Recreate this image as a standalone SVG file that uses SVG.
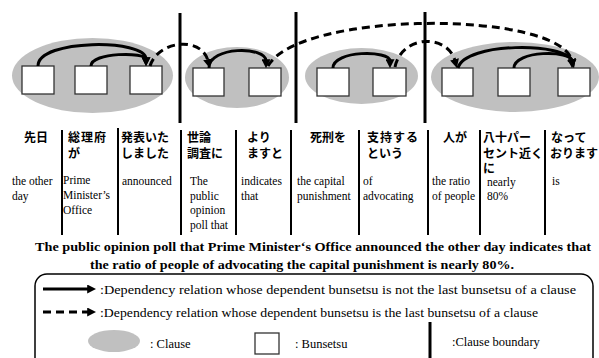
<svg xmlns="http://www.w3.org/2000/svg" width="599" height="358" viewBox="0 0 599 358">
<defs>
<style>
.clause{fill:#c0c0c0;stroke:none}
.bun{fill:#fff;stroke:#333;stroke-width:1.3}
.bound{stroke:#000;stroke-width:3}
.sep{stroke:#000;stroke-width:2}
.dep{fill:none;stroke:#000;stroke-width:3;marker-end:url(#ah)}
.last{fill:none;stroke:#000;stroke-width:3;stroke-dasharray:8 5;marker-end:url(#ah)}
.jp{font-family:"Noto Sans CJK JP","Noto Sans",sans-serif;font-weight:bold;font-size:12px;fill:#000}
.en{font-family:"Liberation Serif","Times New Roman",serif;font-size:11.5px;fill:#000}
.sent{font-family:"Liberation Serif",serif;font-weight:bold;font-size:12.5px;fill:#000}
.leg{font-family:"Liberation Serif",serif;font-size:12.5px;fill:#000}
</style>
<marker id="ah" viewBox="0 0 10 10" refX="2" refY="5" markerWidth="9" markerHeight="9" markerUnits="userSpaceOnUse" orient="auto"><path d="M0,0 L10,5 L0,10 z" fill="#000"/></marker>
</defs>

<g id="clause1">
<ellipse class="clause" cx="92.5" cy="75.5" rx="80.5" ry="37.5"/>
<g id="b1"><rect class="bun" x="22" y="66" width="32" height="28"/></g>
<g id="b2"><rect class="bun" x="75" y="66" width="32" height="28"/></g>
<g id="b3"><rect class="bun" x="130" y="66" width="32" height="28"/></g>
</g>
<g id="clause2">
<ellipse class="clause" cx="237" cy="77.5" rx="52" ry="30.5"/>
<g id="b4"><rect class="bun" x="193" y="68" width="31" height="28"/></g>
<g id="b5"><rect class="bun" x="249" y="68" width="32" height="28"/></g>
</g>
<g id="clause3">
<ellipse class="clause" cx="361.5" cy="76" rx="56.5" ry="28"/>
<g id="b6"><rect class="bun" x="317" y="68" width="32" height="28"/></g>
<g id="b7"><rect class="bun" x="373" y="68" width="33" height="28"/></g>
</g>
<g id="clause4">
<ellipse class="clause" cx="515" cy="77" rx="84" ry="35"/>
<g id="b8"><rect class="bun" x="442" y="68" width="31" height="28"/></g>
<g id="b9"><rect class="bun" x="498" y="68" width="32" height="28"/></g>
<g id="b10"><rect class="bun" x="558" y="68" width="32" height="28"/></g>
</g>

<g id="boundaries">
<line class="bound" x1="180" y1="13" x2="180" y2="123"/>
<line class="bound" x1="296" y1="12" x2="296" y2="123"/>
<line class="bound" x1="425" y1="12" x2="425" y2="123"/>
</g>

<g id="connectors">
<path class="dep" d="M38,66 C38,38.7 146,38.7 146,59"/>
<path class="dep" d="M91,66 C91,52 146,52 146,59"/>
<path class="last" d="M150,66 C158,40 202,36 208,61"/>
<path class="dep" d="M209,68 C209,46 266,46 266,61"/>
<path class="last" d="M268,66 C300,10 560,10 572,61"/>
<path class="dep" d="M333,68 C333,50 390,50 390,61"/>
<path class="last" d="M395,67 C402,34 448,34 455,61"/>
<path class="dep" d="M458,68 C465,42 566,42 572,61"/>
<path class="dep" d="M514,68 C514,50 572,50 572,61"/>
</g>

<g id="columns">
<line class="sep" x1="62" y1="130" x2="62" y2="235"/>
<line class="sep" x1="118" y1="128" x2="118" y2="235"/>
<line class="sep" x1="181" y1="130" x2="181" y2="235"/>
<line class="sep" x1="236" y1="130" x2="236" y2="235"/>
<line class="sep" x1="291" y1="130" x2="291" y2="235"/>
<line class="sep" x1="359" y1="130" x2="359" y2="235"/>
<line class="sep" x1="428" y1="130" x2="428" y2="235"/>
<line class="sep" x1="480" y1="130" x2="480" y2="235"/>
<line class="sep" x1="545" y1="130" x2="545" y2="235"/>

<text class="jp" x="24" y="142">先日</text>
<text class="en" x="12" y="185">the other</text>
<text class="en" x="12" y="200">day</text>

<text class="jp" x="68" y="142" letter-spacing="1">総理府</text>
<text class="jp" x="68" y="157.5">が</text>
<text class="en" x="63" y="184">Prime</text>
<text class="en" x="63" y="199">Minister’s</text>
<text class="en" x="63" y="214">Office</text>

<text class="jp" x="121" y="142">発表いた</text>
<text class="jp" x="121" y="157.5">しました</text>
<text class="en" x="122" y="185">announced</text>

<text class="jp" x="187" y="142">世論</text>
<text class="jp" x="187" y="157.5">調査に</text>
<text class="en" x="190" y="185">The</text>
<text class="en" x="190" y="200">public</text>
<text class="en" x="190" y="214">opinion</text>
<text class="en" x="190" y="229">poll that</text>

<text class="jp" x="247" y="142">より</text>
<text class="jp" x="247" y="157.5">ますと</text>
<text class="en" x="241" y="185">indicates</text>
<text class="en" x="241" y="200">that</text>

<text class="jp" x="310" y="142">死刑を</text>
<text class="en" x="297" y="185">the capital</text>
<text class="en" x="297" y="200">punishment</text>

<text class="jp" x="367" y="142" letter-spacing="1">支持する</text>
<text class="jp" x="367" y="157.5">という</text>
<text class="en" x="363" y="185">of</text>
<text class="en" x="363" y="200">advocating</text>

<text class="jp" x="443" y="142">人が</text>
<text class="en" x="432" y="185">the ratio</text>
<text class="en" x="432" y="200">of people</text>

<text class="jp" x="483" y="142">八十パー</text>
<text class="jp" x="483" y="157.5">セント近く</text>
<text class="jp" x="483" y="173">に</text>
<text class="en" x="487" y="186">nearly</text>
<text class="en" x="487" y="200">80%</text>

<text class="jp" x="551" y="142">なって</text>
<text class="jp" x="550" y="157.5">おります</text>
<text class="en" x="552" y="185">is</text>
</g>

<g id="sentence">
<text class="sent" x="35" y="251" textLength="556" lengthAdjust="spacingAndGlyphs">The public opinion poll that Prime Minister‘s Office announced the other day indicates that</text>
<text class="sent" x="90" y="269" textLength="424" lengthAdjust="spacingAndGlyphs">the ratio of people of advocating the capital punishment is nearly 80%.</text>
</g>

<g id="legend">
<rect x="35" y="274" width="558" height="100" rx="12" ry="12" fill="none" stroke="#000" stroke-width="1.5"/>
<path class="dep" d="M43,289 L89,289"/>
<text class="leg" x="100" y="294" textLength="476" lengthAdjust="spacingAndGlyphs">:Dependency relation whose dependent bunsetsu is not the last bunsetsu of a clause</text>
<path class="last" d="M43,312 L89,312"/>
<text class="leg" x="100" y="317" textLength="438" lengthAdjust="spacingAndGlyphs">:Dependency relation whose dependent bunsetsu is the last bunsetsu of a clause</text>
<ellipse class="clause" cx="114" cy="341" rx="26" ry="11"/>
<text class="leg" x="150" y="348">: Clause</text>
<rect class="bun" x="255" y="333" width="24" height="21"/>
<text class="leg" x="295" y="348">: Bunsetsu</text>
<line class="bound" x1="430" y1="322" x2="430" y2="358"/>
<text class="leg" x="452" y="346">:Clause boundary</text>
</g>
</svg>
